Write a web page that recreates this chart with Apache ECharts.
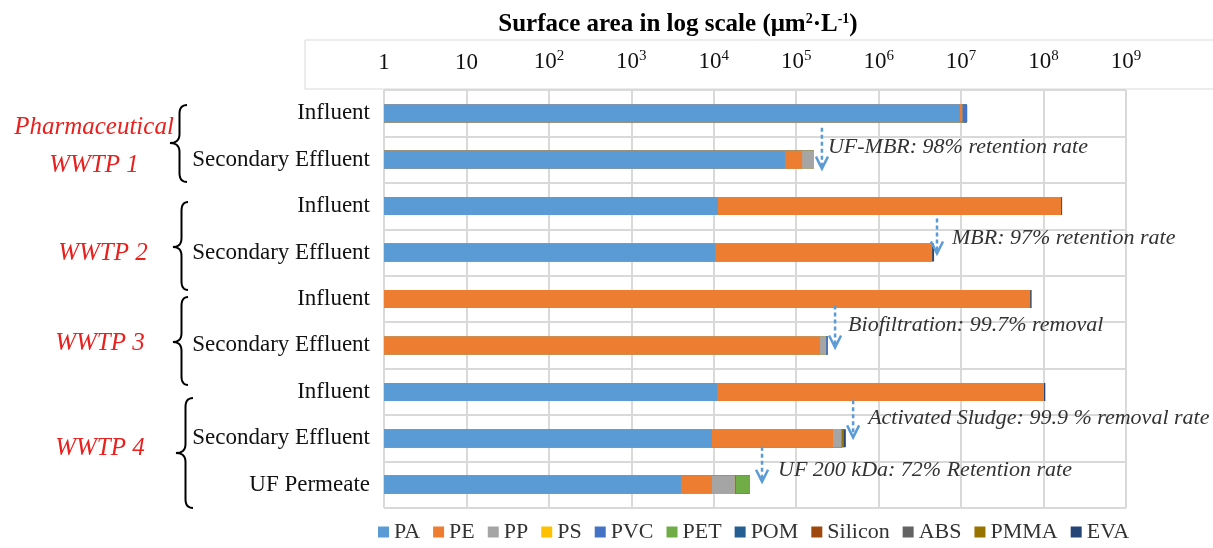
<!DOCTYPE html>
<html><head><meta charset="utf-8">
<script src="https://cdn.jsdelivr.net/npm/echarts@6/dist/echarts.min.js"></script>
<style>html,body{margin:0;padding:0;background:#fff}#c{width:1213px;height:548px}</style>
</head><body><div id="c"></div>
<script>
// ---- data ----
const categories = ['Influent','Secondary Effluent','Influent','Secondary Effluent','Influent','Secondary Effluent','Influent','Secondary Effluent','UF Permeate'];
const polymers = ['PA','PE','PP','PS','PVC','PET','POM','Silicon','ABS','PMMA','EVA'];
const colors = ['#5B9BD5','#ED7D31','#A5A5A5','#FFC000','#4472C4','#70AD47','#255E91','#9E480E','#636363','#997300','#264478'];
// surface area per polymer (um2/L), rows in category order
const PA      = [9.7e6, 7.3e4, 1.12e4, 1.04e4, 0,      0,      1.1e4,  9.5e3, 4.0e3];
const PE      = [6e5,   4.5e4, 1.63e8, 4.43e6, 6.86e7, 1.94e5, 1.01e8, 2.7e5, 5.5e3];
const PP      = [0,     4.6e4, 0,      0,      0,      3.6e4,  0,      7e4,   8.5e3];
const PS      = [0,     0,     0,      0,      0,      0,      0,      0,     0];
const PVC     = [1.5e6, 0,     0,      0,      0,      1e4,    0,      0,     5e2];
const PET     = [0,     0,     0,      0,      0,      0,      0,      1e4,   9e3];
const POM     = [0,     0,     0,      0,      0,      0,      0,      0,     0];
const Silicon = [0,     0,     0,      0,      0,      0,      0,      0,     0];
const ABS     = [0,     0,     0,      0,      0,      0,      0,      0,     0];
const PMMA    = [0,     0,     0,      0,      0,      0,      0,      2e4,   0];
const EVA     = [0,     0,     5e6,    2.6e5,  3e6,    0,      4e6,    2e4,   0];
const polymerValues = [PA, PE, PP, PS, PVC, PET, POM, Silicon, ABS, PMMA, EVA];
const groupLabels = ['Pharmaceutical', 'WWTP 1', 'WWTP 2', 'WWTP 3', 'WWTP 4'];
const annotations = [
  {text:'UF-MBR: 98% retention rate', at:2.05e5, row:1},
  {text:'MBR: 97% retention rate', at:5.1e6, row:3},
  {text:'Biofiltration: 99.7% removal', at:2.96e5, row:5},
  {text:'Activated Sludge: 99.9 % removal rate', at:4.9e5, row:7},
  {text:'UF 200 kDa: 72% Retention rate', at:3.85e4, row:8}
];

// ---- build cumulative overlapping bars ----
const FONT = '"Liberation Serif", "Times New Roman", serif';
const rowIds = categories.map((c,i)=>'r'+i);
const cum = categories.map(()=>0);
const series = polymers.map((name, i) => {
  const data = polymerValues[i].map((v, r) => { cum[r] += v; return cum[r] > 0 ? cum[r] : '-'; });
  return {
    name, type:'bar', data, barWidth:18, barGap:'-100%', z: 30 - i,
    itemStyle:{color: colors[i]}, emphasis:{disabled:true}, animation:false
  };
});

const chart = echarts.init(document.getElementById('c'), null, {renderer:'canvas'});
chart.setOption({
  animation:false,
  backgroundColor:'#fff',
  grid:{left:384, right:87, top:90, bottom:40, containLabel:false},
  legend:{
    data:polymers, bottom:0, left:373, itemWidth:11, itemHeight:11, itemGap:13, icon:'rect',
    textStyle:{fontFamily:FONT, fontSize:22, color:'#333'}
  },
  xAxis:{
    type:'log', logBase:10, min:1, max:1e9, position:'top',
    axisLine:{show:false}, axisTick:{show:false},
    splitLine:{show:true, lineStyle:{color:'#D9D9D9', width:2}},
    axisLabel:{
      margin:16, fontFamily:FONT, fontSize:23, color:'#111',
      formatter:(v)=>{ const e = Math.round(Math.log10(v)); if(e===0) return '1'; if(e===1) return '10'; return '10{s|'+e+'}'; },
      rich:{s:{fontFamily:FONT, fontSize:15, color:'#111', verticalAlign:'top', padding:[0,0,10,0]}}
    }
  },
  yAxis:{
    type:'category', data:rowIds, inverse:true,
    axisLine:{show:false}, axisTick:{show:false},
    splitLine:{show:true, interval:0, lineStyle:{color:'#D9D9D9', width:2}},
    axisLabel:{margin:14, fontFamily:FONT, fontSize:23, color:'#111', formatter:(v, idx)=>categories[idx]}
  },
  series
});

// ---- decorations ----
function quad(p0, p1, p2, n){
  const pts = [];
  for (let i = 0; i <= n; i++) {
    const t = i / n, u = 1 - t;
    pts.push([u*u*p0[0] + 2*u*t*p1[0] + t*t*p2[0], u*u*p0[1] + 2*u*t*p1[1] + t*t*p2[1]]);
  }
  return pts;
}
function bracePoints(xr, xl, y0, y1, ym){
  const xm = (xr + xl) / 2 + 1, r = 9;
  return [].concat(
    quad([xr,y0],[xm,y0],[xm,y0+r],8),
    quad([xm,ym-r],[xm,ym],[xl,ym],8),
    quad([xl,ym],[xm,ym],[xm,ym+r],8),
    quad([xm,y1-r],[xm,y1],[xr,y1],8)
  );
}
const rowY = i => chart.convertToPixel({yAxisIndex:0}, rowIds[i]);
const g = [];
// axis header box and title
g.push({type:'rect', shape:{x:305, y:40, width:920, height:49}, style:{fill:'none', stroke:'#D9D9D9', lineWidth:1}, z:1});
g.push({type:'text', x:678, y:25, style:{
  text:'Surface area in log scale (μm{s|2}·L{s|-1})',
  rich:{s:{fontFamily:FONT, fontSize:14, fontWeight:'bold', fill:'#000', verticalAlign:'top', padding:[0,0,10,0]}},
  fontFamily:FONT, fontSize:25, fontWeight:'bold', fill:'#000', align:'center', verticalAlign:'middle'}});
// braces
const braces = [[187,170,105,182,143],[188,173,202,290,247],[188,173,297,385,342],[193,176,398,508,453]];
braces.forEach(b => {
  g.push({type:'polyline', shape:{points:bracePoints(b[0], b[1], b[2], b[3], b[4])}, style:{fill:'none', stroke:'#000', lineWidth:2}});
});
// group labels
const labelPos = [[94,127],[94,165],[103,253],[100,343],[100,448]];
groupLabels.forEach((t, k) => {
  g.push({type:'text', x:labelPos[k][0], y:labelPos[k][1], style:{text:t, fontFamily:FONT, fontStyle:'italic', fontSize:25, fill:'#E8201E', align:'center', verticalAlign:'middle'}});
});
// annotation arrows
const annOffsets = [{top:-32, tip:9, ty:-12, tx:6}, {top:-34, tip:1, ty:-14, tx:15}, {top:-40, tip:2, ty:-20, tx:13}, {top:-38, tip:-1, ty:-20, tx:15}, {top:-38, tip:-3, ty:-15, tx:16}];
annotations.forEach((a, k) => {
  const x = chart.convertToPixel({xAxisIndex:0}, a.at);
  const yc = rowY(a.row), o = annOffsets[k];
  const yTop = yc + o.top, yTip = yc + o.tip;
  g.push({type:'line', shape:{x1:x, y1:yTop, x2:x, y2:yTip - 3}, style:{stroke:'#5B9BD5', lineWidth:2.5, lineDash:[4,3]}, z:50});
  g.push({type:'polyline', shape:{points:[[x-6, yTip-12],[x, yTip],[x+6, yTip-12]]}, style:{stroke:'#5B9BD5', lineWidth:2.5, fill:'none'}, z:50});
  g.push({type:'text', x:x + o.tx, y:yc + o.ty, style:{text:a.text, fontFamily:FONT, fontStyle:'italic', fontSize:22, fill:'#333', align:'left', verticalAlign:'middle'}, z:50});
});
chart.setOption({graphic:g});
</script>
</body></html>
